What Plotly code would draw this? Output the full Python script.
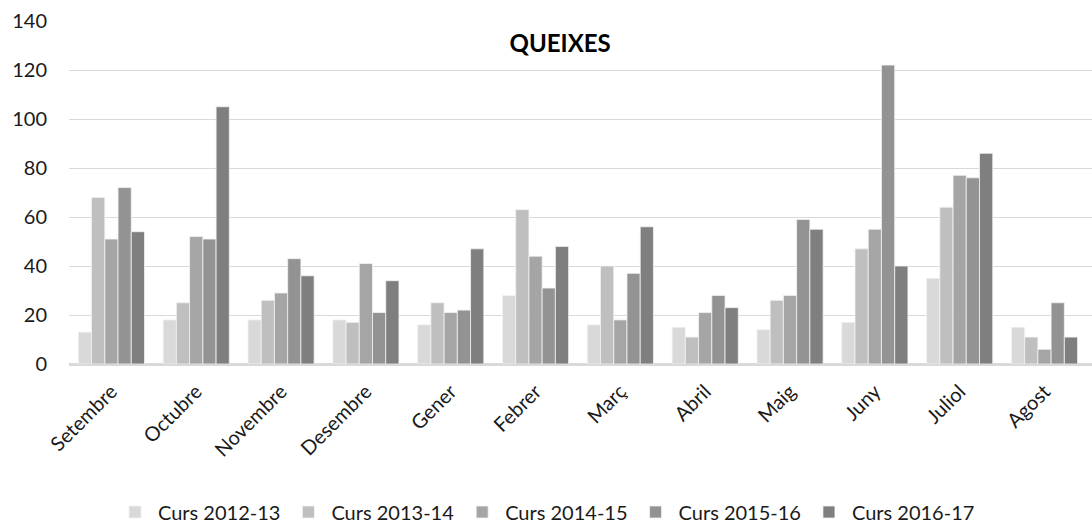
import plotly.graph_objects as go

months = ["Setembre", "Octubre", "Novembre", "Desembre", "Gener", "Febrer",
          "Març", "Abril", "Maig", "Juny", "Juliol", "Agost"]

curs_2012_13 = [13, 18, 18, 18, 16, 28, 16, 15, 14, 17, 35, 15]
curs_2013_14 = [68, 25, 26, 17, 25, 63, 40, 11, 26, 47, 64, 11]
curs_2014_15 = [51, 52, 29, 41, 21, 44, 18, 21, 28, 55, 77, 6]
curs_2015_16 = [72, 51, 43, 21, 22, 31, 37, 28, 59, 122, 76, 25]
curs_2016_17 = [54, 105, 36, 34, 47, 48, 56, 23, 55, 40, 86, 11]

series_names = ["Curs 2012-13", "Curs 2013-14", "Curs 2014-15", "Curs 2015-16", "Curs 2016-17"]
series_values = [curs_2012_13, curs_2013_14, curs_2014_15, curs_2015_16, curs_2016_17]
series_colors = ["#d9d9d9", "#bfbfbf", "#a5a5a5", "#939393", "#7f7f7f"]

FONT = "Lato"
TEXT = "#1a1a1a"

fig = go.Figure()
for name, vals, col in zip(series_names, series_values, series_colors):
    fig.add_trace(go.Bar(
        x=months, y=vals, name=name,
        marker=dict(color=col, line=dict(color="#f2f2f2", width=0.8)),
    ))

fig.update_layout(
    width=1092, height=526,
    margin=dict(l=69, r=0, t=21, b=162, autoexpand=False),
    paper_bgcolor="white", plot_bgcolor="white",
    barmode="group", bargap=0.22, bargroupgap=0,
    font=dict(family=FONT, size=20, color=TEXT),
    title=dict(text="<b>QUEIXES</b>", x=0.513, xanchor="center",
               y=1 - 44 / 526, yanchor="middle",
               font=dict(family=FONT, size=24, color="#000000")),
    xaxis=dict(
        range=[-0.5, 11.56], tickangle=-45, showgrid=False,
        showline=False, ticks="", ticklabelstandoff=11,
        tickfont=dict(size=20, color=TEXT),
    ),
    yaxis=dict(
        range=[0, 140], dtick=20, showgrid=True, gridcolor="#d9d9d9", gridwidth=1.3,
        zeroline=True, zerolinecolor="#d9d9d9", zerolinewidth=2.5,
        showline=False, ticks="", ticklabelstandoff=21,
        tickfont=dict(size=20, color=TEXT),
    ),
    legend=dict(
        orientation="h", xref="container", x=0.5, xanchor="center",
        yref="container", y=1 - 512 / 526, yanchor="middle",
        font=dict(size=20, color=TEXT), itemwidth=36,
        traceorder="normal", tracegroupgap=0,
    ),
)

fig.write_html("out.html")
